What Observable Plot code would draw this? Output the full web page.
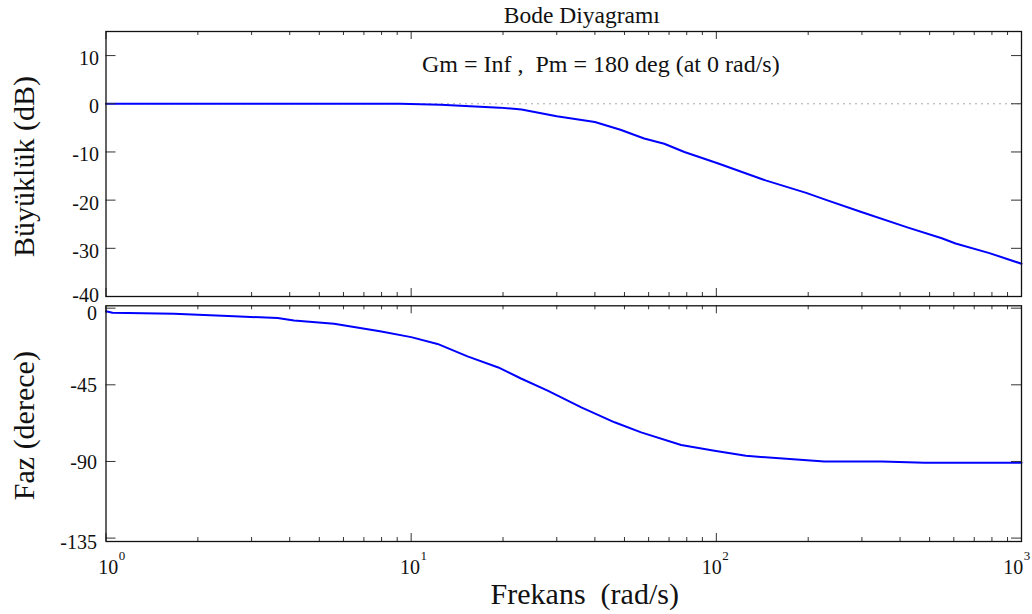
<!DOCTYPE html>
<html><head><meta charset="utf-8">
<script src="https://cdn.jsdelivr.net/npm/d3@7"></script>
<script src="https://cdn.jsdelivr.net/npm/@observablehq/plot@0.6"></script>
<style>
html,body{margin:0;padding:0;background:#fff;}
#wrap{position:relative;width:1032px;height:614px;overflow:hidden;background:#fff;}
#top,#bot{position:absolute;left:0;}
#top{top:0;z-index:1;} #bot{top:300px;z-index:2;}
svg{overflow:visible;}
svg text, svg tspan{white-space:pre;font-family:"Liberation Serif","Times New Roman",serif !important;}
</style></head><body>
<div id="wrap"><div id="top"></div><div id="bot"></div></div>
<script>
// ---- data ----
const magFreq = [1, 9.2, 12.5, 19.5, 23, 30, 40, 48.5, 58, 67.5, 78.6, 101.5, 145, 197, 230, 297, 425, 548, 608, 785, 1000];
const magDb   = [0, 0, -0.2, -0.8, -1.2, -2.6, -3.8, -5.4, -7.2, -8.3, -10, -12.4, -15.9, -18.5, -20, -22.4, -25.7, -27.9, -29, -31, -33.2];
const phFreq  = [1, 1.05, 1.67, 2.63, 3.65, 4.13, 5.59, 7.9, 10, 12.2, 15.3, 19.3, 22.9, 28, 36.1, 46.4, 56.7, 76.7, 98.6, 125, 226, 348, 482, 1000];
const phDeg   = [-1.8, -2.7, -3.3, -4.7, -5.8, -7.2, -9.2, -13.5, -17, -21, -28.3, -34.8, -41.3, -48.4, -58.2, -67, -72.9, -80.3, -83.7, -86.7, -90, -90, -90.8, -90.8];
const magTicks = [10, 0, -10, -20, -30, -40];
const phTicks  = [0, -45, -90, -135];
const xExp     = [0, 1, 2, 3];
const xMinor   = [2,3,4,5,6,7,8,9,20,30,40,50,60,70,80,90,200,300,400,500,600,700,800,900];
const title    = "Bode Diyagramı";
const note     = "Gm = Inf ,  Pm = 180 deg (at 0 rad/s)";
const yLabelTop = "Büyüklük (dB)";
const yLabelBot = "Faz (derece)";
const xLabel    = "Frekans  (rad/s)";

// ---- layout ----
const FONT = "Liberation Serif";
const WIDTH = 1032, ML = 105.5, MR = 11;
const FW = WIDTH - ML - MR;
const TICK = "#333", INK = "#111", BLUE = "#0000ff";
const xMajor = xExp.map(e => 10 ** e);

const magData = magFreq.map((f, i) => ({f, v: magDb[i]}));
const phData  = phFreq.map((f, i) => ({f, v: phDeg[i]}));

function xTickMarks(H) {
  return [
    Plot.ruleX(xMajor, {x: d => d, insetBottom: H - 8, stroke: TICK}),
    Plot.ruleX(xMajor, {x: d => d, insetTop: H - 8, stroke: TICK}),
    Plot.ruleX(xMinor, {x: d => d, insetBottom: H - 4, stroke: TICK}),
    Plot.ruleX(xMinor, {x: d => d, insetTop: H - 4, stroke: TICK})
  ];
}
function yTickMarks(ticks) {
  return [
    Plot.ruleY(ticks, {y: d => d, insetRight: FW - 10, stroke: TICK}),
    Plot.ruleY(ticks, {y: d => d, insetLeft: FW - 10, stroke: TICK})
  ];
}
function yLabels(ticks, dx, dyFor) {
  return ticks.map(t => Plot.text([t], {y: d => d, frameAnchor: "left", textAnchor: "end", dx, dy: dyFor(t),
    text: d => String(d), fontSize: 20, fontFamily: FONT, fill: INK}));
}

// ---- top: magnitude ----
const topH = 300, topMT = 31, topMB = 4;
const topPlot = Plot.plot({
  width: WIDTH, height: topH,
  marginTop: topMT, marginBottom: topMB, marginLeft: ML, marginRight: MR,
  style: {fontFamily: FONT, background: "#fff", color: INK, overflow: "visible"},
  x: {type: "log", domain: [1, 1000], axis: null},
  y: {domain: [-40, 15], axis: null},
  marks: [
    Plot.ruleY([0], {stroke: "#555", strokeDasharray: "1,5", strokeWidth: 1}),
    Plot.line(magData, {x: "f", y: "v", stroke: BLUE, strokeWidth: 2}),
    ...xTickMarks(topH - topMT - topMB),
    ...yTickMarks(magTicks),
    ...yLabels(magTicks, -7, t => t === -40 ? -1 : 3),
    Plot.text([title], {frameAnchor: "top", textAnchor: "middle", lineAnchor: "bottom", dx: 18, dy: -9, text: d => d, fontSize: 23.5, fontFamily: FONT, fill: INK}),
    Plot.text([note], {frameAnchor: "top-left", textAnchor: "start", lineAnchor: "bottom", dx: 316, dy: 40, text: d => d, fontSize: 24, fontFamily: FONT, fill: INK}),
    Plot.text([yLabelTop], {frameAnchor: "left", rotate: -90, textAnchor: "middle", lineAnchor: "bottom", dx: -72.5, dy: 2.5, text: d => d, fontSize: 30, fontFamily: FONT, fill: INK}),
    Plot.frame({stroke: INK, strokeWidth: 1.3})
  ]
});
document.getElementById("top").appendChild(topPlot);

// ---- bottom: phase ----
const botH = 314, botMT = 5.3, botMB = 73;
const botPlot = Plot.plot({
  width: WIDTH, height: botH,
  marginTop: botMT, marginBottom: botMB, marginLeft: ML, marginRight: MR,
  style: {fontFamily: FONT, background: "transparent", color: INK, overflow: "visible"},
  x: {type: "log", domain: [1, 1000], axis: null},
  y: {domain: [-137, 1.4], axis: null},
  marks: [
    Plot.line(phData, {x: "f", y: "v", stroke: BLUE, strokeWidth: 2}),
    ...xTickMarks(botH - botMT - botMB),
    ...yTickMarks(phTicks),
    ...yLabels(phTicks, -9, t => t === 0 ? 5.5 : t === -135 ? 4 : 1),
    ...xExp.map(e => Plot.text([10 ** e], {x: d => d, frameAnchor: "bottom", textAnchor: "middle", lineAnchor: "bottom",
      dx: 2.3 - 3.5 * e, dy: 32, text: () => "10", fontSize: 20, fontFamily: FONT, fill: INK})),
    ...xExp.map(e => Plot.text([e], {x: d => 10 ** d, frameAnchor: "bottom", textAnchor: "start", lineAnchor: "bottom",
      dx: 12.8 - 3.5 * e, dy: 18, text: d => String(d), fontSize: 13, fontFamily: FONT, fill: INK})),
    Plot.text([xLabel], {frameAnchor: "bottom", textAnchor: "middle", lineAnchor: "bottom", dx: 21, dy: 62, text: d => d, fontSize: 30, fontFamily: FONT, fill: INK}),
    Plot.text([yLabelBot], {frameAnchor: "left", rotate: -90, textAnchor: "middle", lineAnchor: "bottom", dx: -72.5, dy: 2, text: d => d, fontSize: 30, fontFamily: FONT, fill: INK}),
    Plot.frame({stroke: INK, strokeWidth: 1.3})
  ]
});
document.getElementById("bot").appendChild(botPlot);
</script>
</body></html>
